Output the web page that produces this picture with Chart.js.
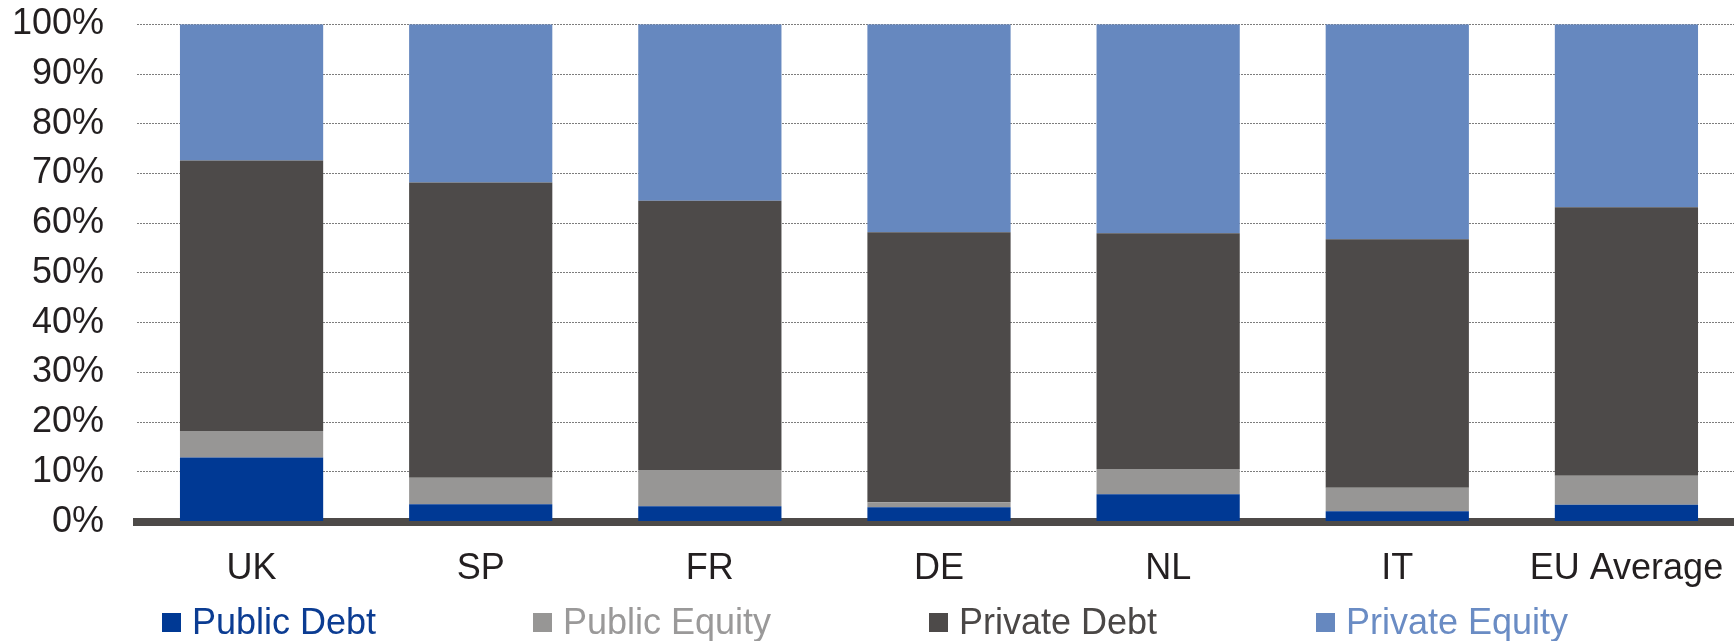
<!DOCTYPE html>
<html>
<head>
<meta charset="utf-8">
<title>Funding mix by country</title>
<script src="https://cdn.jsdelivr.net/npm/chart.js@4.4.1/dist/chart.umd.min.js"></script>
<style>
  html, body { margin: 0; padding: 0; overflow: hidden; background: #fff; }
  #wrap { position: relative; width: 1741px; height: 641px; }
</style>
</head>
<body>
<div id="wrap"><canvas id="mixChart" width="1741" height="641"></canvas></div>
<script>
// categories and the four funding sources, shares in %
const countries = ["UK", "SP", "FR", "DE", "NL", "IT", "EU Average"];
const publicDebt = [12.9, 3.5, 3.1, 2.9, 5.5, 2.1, 3.4];
const publicEquity = [5.3, 5.3, 7.3, 1.0, 5.1, 4.7, 5.8];
const privateDebt = [54.4, 59.4, 54.1, 54.3, 47.4, 50.0, 54.0];
const privateEquity = [27.4, 31.8, 35.5, 41.8, 42.0, 43.2, 36.8];
const yTicks = [0, 10, 20, 30, 40, 50, 60, 70, 80, 90, 100];

const FONT = "'Liberation Sans', Arial, sans-serif";
const TEXT = "#231f20";

// legend drawn in one row under the axis labels
const legendX = [162, 533, 929, 1316];
const rowLegend = {
  id: "rowLegend",
  afterDraw(chart) {
    const ctx = chart.ctx;
    ctx.save();
    ctx.font = "36px " + FONT;
    ctx.textBaseline = "alphabetic";
    chart.data.datasets.forEach((ds, i) => {
      const x = legendX[i];
      ctx.fillStyle = ds.backgroundColor;
      ctx.fillRect(x, 613, 19, 19);
      ctx.fillStyle = ds.legendText;
      ctx.fillText(ds.label, x + 30, 634);
    });
    ctx.restore();
  }
};

const ctx = document.getElementById("mixChart").getContext("2d");
new Chart(ctx, {
  type: "bar",
  data: {
    labels: countries,
    datasets: [
      { label: "Public Debt", data: publicDebt, backgroundColor: "#003994", legendText: "#0b3c92" },
      { label: "Public Equity", data: publicEquity, backgroundColor: "#979695", legendText: "#9a9999" },
      { label: "Private Debt", data: privateDebt, backgroundColor: "#4d4a49", legendText: "#4a4746" },
      { label: "Private Equity", data: privateEquity, backgroundColor: "#6688bf", legendText: "#6a8cc4" }
    ]
  },
  options: {
    responsive: false,
    animation: false,
    layout: { padding: { top: 24.3, right: 0, bottom: 0, left: 0 } },
    datasets: { bar: { categoryPercentage: 1, barPercentage: 0.625, borderWidth: 0 } },
    plugins: {
      legend: { display: false },
      tooltip: { enabled: false }
    },
    scales: {
      x: {
        stacked: true,
        z: 1,
        grid: { display: false, drawTicks: false },
        border: { display: true, color: "#4d4a48", width: 8 },
        ticks: {
          autoSkip: false,
          maxRotation: 0,
          padding: 26,
          color: TEXT,
          font: { family: FONT, size: 36 }
        },
        afterFit(scale) {
          scale.height = 119.4;
          scale.paddingLeft = 0;
          scale.paddingRight = 0;
        }
      },
      y: {
        stacked: true,
        min: 0,
        max: 100,
        afterBuildTicks(scale) { scale.ticks = yTicks.map(v => ({ value: v })); },
        grid: { color: "#7d7d7d", lineWidth: 1, drawTicks: false },
        border: { display: false, dash: [2, 1] },
        ticks: {
          padding: 33,
          color: TEXT,
          font: { family: FONT, size: 36 },
          callback: v => v + "%"
        },
        afterFit(scale) {
          scale.width = 137;
          scale.paddingTop = 0;
          scale.paddingBottom = 0;
        }
      }
    }
  },
  plugins: [rowLegend]
});
</script>
</body>
</html>
